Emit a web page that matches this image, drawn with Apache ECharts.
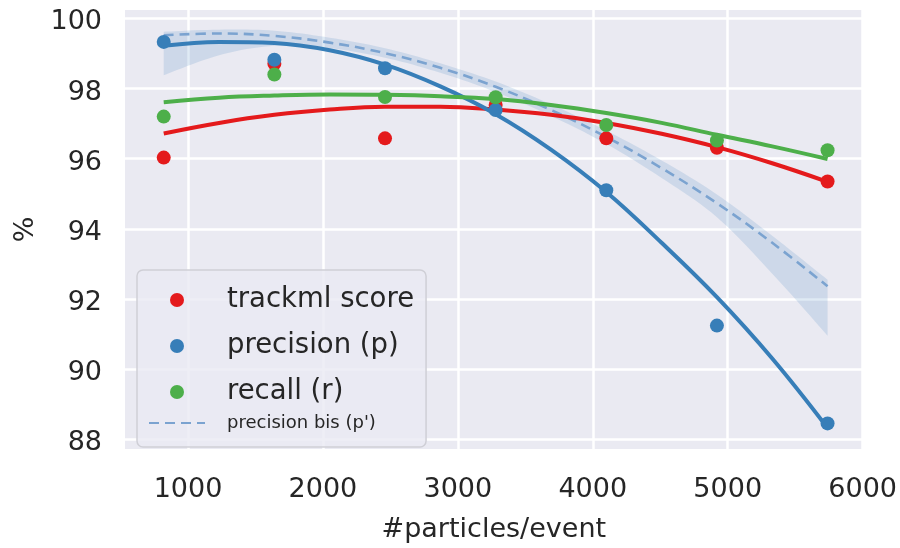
<!DOCTYPE html>
<html>
<head>
<meta charset="utf-8">
<script src="https://cdn.jsdelivr.net/npm/echarts@6/dist/echarts.min.js"></script>
<style>
html,body{margin:0;padding:0;background:#fff;}
#chart{width:900px;height:548px;}
</style>
</head>
<body>
<div id="chart"></div>
<script>
// Observed points
const xPoints = [820, 1640, 2460, 3280, 4100, 4920, 5740];
const trackmlScore = [96.03, 98.71, 96.58, 97.53, 96.58, 96.31, 95.35];
const precisionP = [99.33, 98.82, 98.58, 97.39, 95.10, 91.24, 88.45];
const recallR = [97.20, 98.40, 97.76, 97.75, 96.96, 96.52, 96.24];

// Fitted curves
const xFit = [820, 1230, 1640, 2050, 2460, 2870, 3280, 3690, 4100, 4510, 4920, 5330, 5740];
const trackmlFit = [96.72, 97.02, 97.25, 97.40, 97.48, 97.48, 97.40, 97.25, 97.02, 96.71, 96.33, 95.87, 95.34];
const precisionFit = [99.22, 99.33, 99.30, 99.09, 98.68, 98.06, 97.27, 96.26, 95.05, 93.60, 92.05, 90.30, 88.32];
const recallFit = [97.61, 97.74, 97.80, 97.83, 97.82, 97.78, 97.70, 97.53, 97.30, 97.02, 96.68, 96.35, 95.99];
const precisionBisFit = [99.52, 99.57, 99.50, 99.31, 99.01, 98.59, 98.05, 97.39, 96.62, 95.73, 94.73, 93.60, 92.36];
const precisionBisLower = [98.38, 98.95, 99.22, 99.15, 98.88, 98.45, 97.90, 97.22, 96.42, 95.45, 94.33, 92.72, 90.95];
const precisionBisUpper = [99.62, 99.68, 99.65, 99.45, 99.15, 98.72, 98.20, 97.55, 96.80, 95.95, 94.98, 93.80, 92.55];

// Tick labels
const xTicks = [1000, 2000, 3000, 4000, 5000, 6000];
const yTicks = [88, 90, 92, 94, 96, 98, 100];

const RED = '#e41a1c', BLUE = '#377eb8', GREEN = '#4daf4a', DASH = '#7ba3d0';
const FONT = 'DejaVu Sans';
const TXT = '#262626';

const pairs = (xs, ys) => xs.map((x, i) => [x, ys[i]]);
const bandData = xFit.map((x, i) => [x, precisionBisLower[i], precisionBisUpper[i]]);

// Catmull-Rom subdivision of pixel points, for drawing a smooth band outline
function smoothPts(p) {
  const out = [];
  const n = p.length;
  for (let i = 0; i < n - 1; i++) {
    const p0 = p[Math.max(i - 1, 0)], p1 = p[i], p2 = p[i + 1], p3 = p[Math.min(i + 2, n - 1)];
    const steps = 10;
    for (let s = 0; s < steps; s++) {
      const t = s / steps, t2 = t * t, t3 = t2 * t;
      const f = (a, b, c, d) => 0.5 * ((2 * b) + (-a + c) * t + (2 * a - 5 * b + 4 * c - d) * t2 + (-a + 3 * b - 3 * c + d) * t3);
      out.push([f(p0[0], p1[0], p2[0], p3[0]), f(p0[1], p1[1], p2[1], p3[1])]);
    }
  }
  out.push(p[n - 1]);
  return out;
}

const chart = echarts.init(document.getElementById('chart'), null, {renderer: 'canvas'});
chart.setOption({
  animation: false,
  backgroundColor: '#ffffff',
  textStyle: {fontFamily: FONT, color: TXT},
  grid: {left: 125, right: 36, top: 10, bottom: 90, show: true, backgroundColor: '#eaeaf2', borderWidth: 0},
  xAxis: {
    type: 'value', min: 533, max: 6000,
    name: '#particles/event', nameLocation: 'middle', nameGap: 67,
    nameTextStyle: {fontFamily: FONT, fontSize: 27, color: TXT},
    axisLine: {show: false}, axisTick: {show: false, customValues: xTicks},
    axisLabel: {customValues: xTicks, formatter: v => String(v), fontFamily: FONT, fontSize: 27, color: TXT, margin: 27},
    splitLine: {show: true, lineStyle: {color: '#ffffff', width: 2.5}}
  },
  yAxis: {
    type: 'value', min: 87.72, max: 100.24,
    name: '%', nameLocation: 'middle', nameGap: 78, nameRotate: 90,
    nameTextStyle: {fontFamily: FONT, fontSize: 27, color: TXT},
    axisLine: {show: false}, axisTick: {show: false, customValues: yTicks},
    axisLabel: {customValues: yTicks, formatter: v => '{a|' + v + '}', color: TXT, margin: 23,
                rich: {a: {fontFamily: FONT, fontSize: 27, color: TXT, padding: [8, 0, 0, 0]}}},
    splitLine: {show: true, lineStyle: {color: '#ffffff', width: 2.5}}
  },
  legend: [
    {
      orient: 'vertical', left: 137, top: 270,
      data: ['trackml score', 'precision (p)', 'recall (r)',
             {name: "precision bis (p')", itemStyle: {opacity: 0}, lineStyle: {opacity: 0}, textStyle: {color: 'rgba(0,0,0,0)'}}],
      itemWidth: 56, itemHeight: 14, itemGap: 18,
      padding: [16, 12, 5, 11],
      backgroundColor: 'rgba(234,234,242,0.8)', borderColor: '#cfcfd6', borderWidth: 1.5, borderRadius: 6,
      formatter: n => n === "precision bis (p')" ? '{s|' + n + '}' : '{b|' + n + '}',
      textStyle: {
        fontFamily: FONT, color: TXT, padding: [0, 0, 0, 17],
        rich: {
          b: {fontFamily: FONT, fontSize: 27.5, lineHeight: 30, color: TXT},
          s: {fontFamily: FONT, fontSize: 18, lineHeight: 16, color: 'rgba(0,0,0,0)'}
        }
      }
    },
    {
      orient: 'vertical', left: 148, top: 414, z: 10,
      data: [{name: "precision bis (p')", itemStyle: {opacity: 0}}],
      itemWidth: 56, itemHeight: 14, padding: 0,
      textStyle: {fontFamily: FONT, fontSize: 18, color: TXT, padding: [0, 0, 0, 17]}
    }
  ],
  series: [
    {
      name: 'band', type: 'custom', data: bandData, z: 1, silent: true,
      renderItem: (params, api) => {
        if (params.dataIndex !== 0) return null;
        const upper = smoothPts(bandData.map(d => api.coord([d[0], d[2]])));
        const lower = smoothPts(bandData.map(d => api.coord([d[0], d[1]]))).reverse();
        return {
          type: 'polygon',
          shape: {points: upper.concat(lower)},
          style: {fill: 'rgba(55,126,184,0.16)', stroke: null}
        };
      }
    },
    {name: "precision bis (p')", type: 'line', data: pairs(xFit, precisionBisFit), smooth: 0.4, symbol: 'none',
     lineStyle: {color: DASH, width: 2.6, type: [10, 6]}, itemStyle: {color: DASH}, z: 2},
    {name: 'fit-trackml', type: 'line', data: pairs(xFit, trackmlFit), smooth: 0.4, symbol: 'none',
     lineStyle: {color: RED, width: 4}, z: 3},
    {name: 'fit-precision', type: 'line', data: pairs(xFit, precisionFit), smooth: 0.4, symbol: 'none',
     lineStyle: {color: BLUE, width: 4}, z: 3},
    {name: 'fit-recall', type: 'line', data: pairs(xFit, recallFit), smooth: 0.4, symbol: 'none',
     lineStyle: {color: GREEN, width: 4}, z: 3},
    {name: 'trackml score', type: 'scatter', data: pairs(xPoints, trackmlScore), symbolSize: 14,
     itemStyle: {color: RED, opacity: 1}, z: 4},
    {name: 'precision (p)', type: 'scatter', data: pairs(xPoints, precisionP), symbolSize: 14,
     itemStyle: {color: BLUE, opacity: 1}, z: 4},
    {name: 'recall (r)', type: 'scatter', data: pairs(xPoints, recallR), symbolSize: 14,
     itemStyle: {color: GREEN, opacity: 1}, z: 4}
  ]
});
</script>
</body>
</html>
